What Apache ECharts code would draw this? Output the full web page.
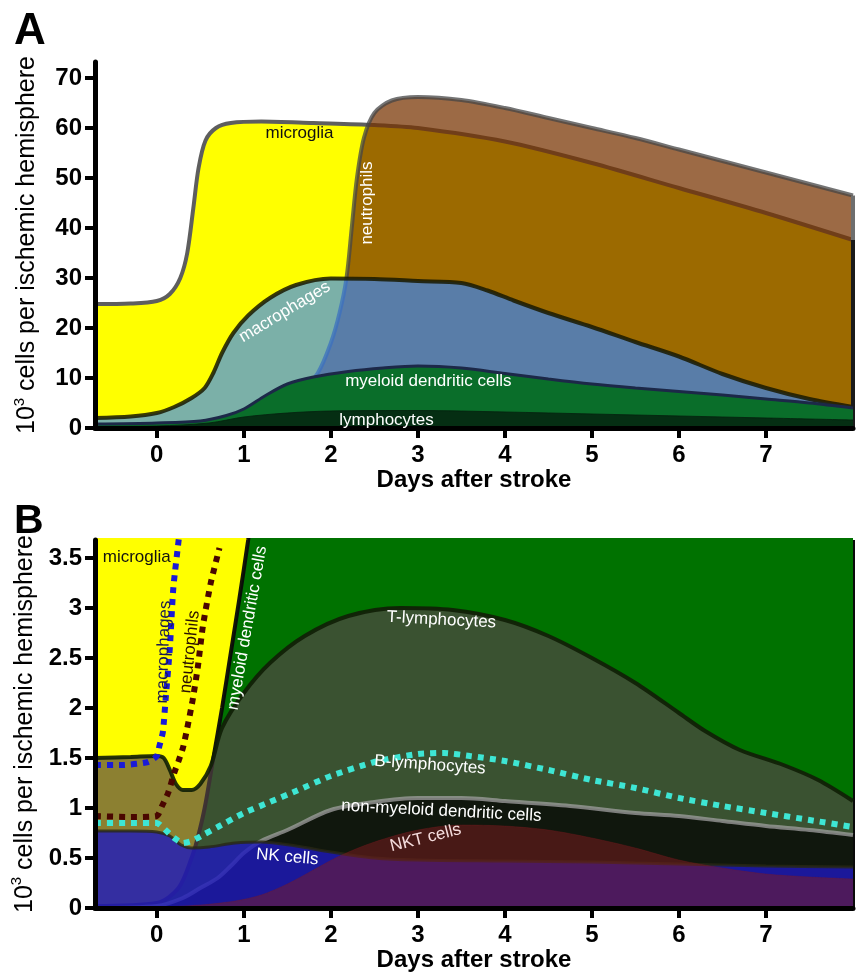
<!DOCTYPE html>
<html>
<head>
<meta charset="utf-8">
<script src="https://cdn.jsdelivr.net/npm/echarts@6/dist/echarts.min.js"></script>
<style>html,body{margin:0;padding:0;background:#fff}#chart{width:861px;height:975px}</style>
</head>
<body>
<div id="chart"></div>
<script>
// panel A, 10^3 cells per ischemic hemisphere, [day, value]
const aMicroglia = [[-0.71,24.8],[-0.3,24.9],[0,25.4],[0.15,26.8],[0.27,30],[0.35,35],[0.42,44],[0.48,52],[0.56,57.5],[0.68,60],[0.85,61],[1.2,61.3],[1.8,61],[2.5,60.6],[3,60],[4,57.3],[5,53],[6,48],[7,43],[8,37.6]];
const aNeutrophils = [[-0.71,0.4],[0,0.7],[0.5,1.1],[1,1.8],[1.3,3],[1.6,6],[1.85,11],[2,17],[2.1,23],[2.18,30],[2.24,40],[2.3,50],[2.38,58],[2.5,63],[2.7,65.5],[3,66.2],[3.5,65.6],[4,64],[4.5,62],[5,60],[5.5,58],[6,55.7],[6.5,53.4],[7,51.1],[7.5,48.8],[8,46.5]];
const aMacrophages = [[-0.71,2],[-0.3,2.3],[0,3],[0.2,4.2],[0.4,6],[0.55,8],[0.65,11],[0.75,15],[0.88,19],[1.05,22.5],[1.3,26],[1.6,28.6],[2,29.9],[2.5,29.8],[3,29.4],[3.5,29],[3.8,27.5],[4.1,25.5],[4.5,23],[5,20.2],[5.5,17.2],[6,14.3],[6.5,10.8],[7,8],[7.5,5.8],[8,4.2]];
const aDendritic = [[-0.71,0.8],[0,1],[0.5,1.4],[0.8,2.5],[1,3.8],[1.25,6.5],[1.5,8.8],[1.8,10.2],[2.2,11.3],[2.6,12],[3,12.4],[3.5,12],[4,10.9],[4.5,9.8],[5,8.8],[5.5,8],[6,7.3],[6.5,6.6],[7,5.8],[7.5,5],[8,4]];
const aLymphocytes = [[-0.71,0.3],[0,0.4],[0.6,1],[1,2.2],[1.5,3],[2,3.4],[3,3.5],[4,3.2],[5,2.8],[6,2.4],[7,2],[8,1.6]];

// panel B
const bDendritic = [[-0.71,0.02],[0,0.05],[0.25,0.2],[0.4,0.5],[0.47,0.7],[0.55,1],[0.65,1.5],[0.75,2],[0.85,2.55],[0.95,3.1],[1.05,3.68],[1.15,4.3],[1.4,6],[2,10],[3,12],[4,11],[5,9],[6,7.3],[7,5.8],[8,4]];
const bTLymphocytes = [[-0.71,1.5],[-0.3,1.51],[0,1.52],[0.08,1.5],[0.15,1.38],[0.22,1.24],[0.3,1.18],[0.4,1.18],[0.5,1.24],[0.62,1.42],[0.75,1.8],[1,2.15],[1.3,2.45],[1.7,2.72],[2.2,2.92],[2.8,3],[3.4,2.98],[4,2.88],[4.5,2.72],[5,2.5],[5.5,2.25],[6,1.95],[6.3,1.77],[6.7,1.58],[7.2,1.43],[7.6,1.28],[8,1.07]];
const bNonMyeloid = [[-0.71,0],[0,0.02],[0.3,0.1],[0.5,0.2],[0.7,0.3],[0.85,0.42],[1,0.55],[1.2,0.67],[1.5,0.78],[2,0.98],[2.5,1.06],[3,1.1],[3.5,1.1],[4,1.07],[4.75,1.02],[5.5,0.95],[6,0.92],[6.5,0.87],[7,0.82],[7.5,0.78],[8,0.73]];
const bNK = [[-0.71,0.77],[-0.3,0.77],[0,0.76],[0.15,0.72],[0.28,0.63],[0.4,0.6],[0.6,0.61],[0.9,0.65],[1.2,0.66],[1.6,0.62],[2,0.56],[2.5,0.5],[3,0.48],[4,0.47],[5,0.46],[5.5,0.45],[6,0.44],[6.5,0.43],[7,0.42],[8,0.41]];
const bNKT = [[-0.71,0],[0,0.01],[0.5,0.03],[0.9,0.07],[1.2,0.13],[1.5,0.24],[1.8,0.38],[2.1,0.52],[2.5,0.66],[3,0.78],[3.5,0.83],[4,0.82],[4.5,0.78],[5,0.7],[5.5,0.6],[6,0.48],[6.5,0.4],[7,0.34],[7.5,0.31],[8,0.29]];
const bBLymphocytes = [[-0.71,0.85],[-0.3,0.85],[0,0.85],[0.1,0.78],[0.2,0.7],[0.3,0.65],[0.4,0.67],[0.55,0.74],[0.7,0.81],[1,0.95],[1.3,1.06],[1.6,1.17],[2,1.32],[2.5,1.46],[3,1.54],[3.3,1.55],[3.6,1.52],[4,1.47],[4.5,1.38],[5,1.28],[5.5,1.2],[6,1.1],[6.5,1.02],[7,0.95],[7.5,0.88],[8,0.81]];
const bMacrophages = [[-0.71,1.43],[-0.4,1.43],[-0.1,1.46],[0,1.52],[0.03,1.62],[0.07,1.76],[0.1,2.07],[0.15,2.6],[0.19,3.2],[0.26,3.75],[0.32,4.3]];
const bNeutrophils = [[-0.71,0.92],[-0.3,0.91],[0,0.92],[0.06,1.02],[0.13,1.15],[0.2,1.35],[0.25,1.47],[0.3,1.6],[0.35,1.8],[0.41,2.07],[0.47,2.4],[0.53,2.82],[0.62,3.25],[0.72,3.6]];

const dayTicks = [0, 1, 2, 3, 4, 5, 6, 7];
const aTicks = [0, 10, 20, 30, 40, 50, 60, 70];
const bTicks = [0, 0.5, 1, 1.5, 2, 2.5, 3, 3.5];

let myChart = echarts.init(document.getElementById('chart'));
const FONT = '"Liberation Sans", Arial, sans-serif';

function area(name, gi, data, fill, line, width) {
    return {
        name: name, type: 'line', xAxisIndex: gi, yAxisIndex: gi, data: data,
        symbol: 'none', smooth: 0.3,
        lineStyle: {color: line, width: width},
        areaStyle: {color: fill, opacity: 1}
    };
}

function dots(name, gi, data, color) {
    return {
        name: name, type: 'line', xAxisIndex: gi, yAxisIndex: gi, data: data,
        symbol: 'none', smooth: 0.2,
        lineStyle: {color: color, width: 6, type: 'dotted'}
    };
}

function edge(from, to, color) {
    return [{coord: from, lineStyle: {color: color, width: 4, type: 'solid'}}, {coord: to}];
}

function xAx(gi) {
    return {
        type: 'value', gridIndex: gi, min: -0.71, max: 8, z: 50,
        axisLine: {onZero: false, lineStyle: {color: '#000', width: 5}},
        axisTick: {customValues: dayTicks, length: 10, lineStyle: {color: '#000', width: 4}},
        axisLabel: {customValues: dayTicks, fontSize: 24, fontWeight: 'bold', color: '#000', fontFamily: FONT, margin: 15},
        splitLine: {show: false},
        name: 'Days after stroke', nameLocation: 'middle', nameGap: 40,
        nameTextStyle: {fontSize: 24, fontWeight: 'bold', color: '#000', fontFamily: FONT}
    };
}

function yAx(gi, max, ticks) {
    return {
        type: 'value', gridIndex: gi, min: 0, max: max, z: 50,
        axisLine: {show: true, onZero: false, lineStyle: {color: '#000', width: 5}},
        axisTick: {show: true, customValues: ticks, length: 10, lineStyle: {color: '#000', width: 4}},
        axisLabel: {customValues: ticks, fontSize: 24, fontWeight: 'bold', color: '#000', fontFamily: FONT, margin: 13},
        splitLine: {show: false},
        name: '{n|10}{s|3}{n| cells per ischemic hemisphere}', nameLocation: 'middle', nameGap: 52,
        nameTextStyle: {
            rich: {
                n: {fontSize: 25, fontFamily: FONT, color: '#000'},
                s: {fontSize: 15, fontFamily: FONT, color: '#000', padding: [0, 0, 16, 0]}
            }
        }
    };
}

let neutroA = area('neutrophils', 0, aNeutrophils, 'rgba(119,51,0,0.73)', 'rgba(70,70,70,0.75)', 4);
neutroA.markLine = {
    silent: true, symbol: ['none', 'none'], label: {show: false},
    data: [edge([8, 0], [8, 37.6], '#1a1a1a'), edge([8, 37.6], [8, 46.5], '#6e6e6e')]
};

let mdcB = area('myeloid dendritic cells', 1, bDendritic, '#007200', 'rgba(8,8,8,0.95)', 4);
mdcB.markLine = {
    silent: true, symbol: ['none', 'none'], label: {show: false},
    data: [edge([1.05, 3.68], [8, 3.68], '#0a0a0a'), edge([8, 0], [8, 3.68], '#0a0a0a')]
};

let seriesList = [
    area('microglia', 0, aMicroglia, '#ffff00', '#5e5e5e', 4),
    neutroA,
    area('macrophages', 0, aMacrophages, 'rgba(55,135,255,0.66)', 'rgba(25,25,0,0.85)', 4),
    area('myeloid dendritic cells', 0, aDendritic, '#0a6e2a', '#1c2848', 3),
    area('lymphocytes', 0, aLymphocytes, 'rgba(5,35,15,0.85)', 'rgba(5,35,15,0.85)', 1),

    area('microglia', 1, aMicroglia, '#ffff00', '#666666', 4),
    mdcB,
    area('T-lymphocytes', 1, bTLymphocytes, 'rgba(85,68,72,0.68)', 'rgba(15,30,5,0.9)', 4),
    area('non-myeloid dendritic cells', 1, bNonMyeloid, 'rgba(0,0,0,0.72)', 'rgba(160,160,160,0.75)', 4),
    area('NK cells', 1, bNK, 'rgba(30,25,190,0.8)', 'rgba(40,40,20,0.8)', 3),
    area('NKT cells', 1, bNKT, 'rgba(128,28,32,0.5)', 'rgba(128,28,32,0.3)', 1),
    dots('B-lymphocytes', 1, bBLymphocytes, '#3ee6d4'),
    dots('macrophages', 1, bMacrophages, '#1a1ad6'),
    dots('neutrophils', 1, bNeutrophils, '#4a0600')
];
// each series on its own layer so later fills tint earlier outlines
seriesList.forEach(function (s, i) { s.z = 2 + i; });

option = {
    animation: false,
    backgroundColor: '#fff',
    title: [
        {text: 'A', left: 14, top: 10, padding: 0, textStyle: {fontSize: 44, fontWeight: 'bold', fontFamily: FONT, color: '#000'}},
        {text: 'B', left: 14, top: 501, padding: 0, textStyle: {fontSize: 41, fontWeight: 'bold', fontFamily: FONT, color: '#000'}}
    ],
    grid: [
        {left: 95, right: 8, top: 62, height: 366},
        {left: 95, right: 8, top: 540, height: 368}
    ],
    xAxis: [xAx(0), xAx(1)],
    yAxis: [yAx(0, 73.2, aTicks), yAx(1, 3.68, bTicks)],
    series: seriesList
};

myChart.setOption(option);

// in-plot labels, placed in data space: [grid, text, day, value, angle, colour]
const notes = [
    [0, 'microglia', 1.64, 59, 0, '#111'],
    [0, 'neutrophils', 2.42, 45, 90, '#fff'],
    [0, 'macrophages', 1.47, 23.2, 31, '#fff'],
    [0, 'myeloid dendritic cells', 3.12, 9.4, 0, '#fff'],
    [0, 'lymphocytes', 2.64, 1.6, 0, '#fff'],
    [1, 'microglia', -0.23, 3.51, 0, '#111'],
    [1, 'macrophages', 0.08, 2.56, 88, '#1a1a50'],
    [1, 'neutrophils', 0.38, 2.56, 84, '#2a1000'],
    [1, 'myeloid dendritic cells', 1.04, 2.8, 80, '#fff'],
    [1, 'T-lymphocytes', 3.27, 2.88, -3, '#fff'],
    [1, 'B-lymphocytes', 3.14, 1.43, -4, '#fff'],
    [1, 'non-myeloid dendritic cells', 3.27, 0.97, -3, '#fff'],
    [1, 'NKT cells', 3.09, 0.7, 14, '#f4dcdc'],
    [1, 'NK cells', 1.5, 0.51, -5, '#fff']
];

myChart.setOption({
    graphic: notes.map(function (n) {
        let p = myChart.convertToPixel({gridIndex: n[0]}, [n[2], n[3]]);
        return {
            type: 'text', x: p[0], y: p[1], rotation: n[4] * Math.PI / 180, z: 100,
            style: {text: n[1], fill: n[5], fontSize: 17, fontFamily: FONT, align: 'center', verticalAlign: 'middle'}
        };
    })
});
</script>
</body>
</html>
